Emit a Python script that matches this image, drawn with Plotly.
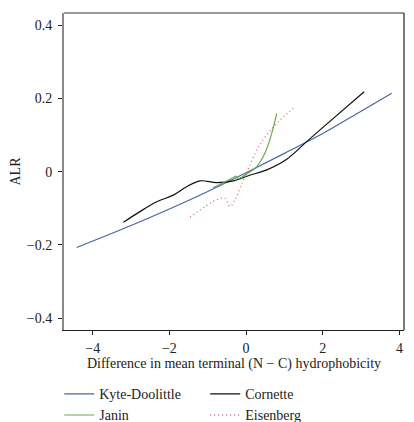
import plotly.graph_objects as go

# Kyte-Doolittle
kd_x = [-4.42, -3.0, -2.0, -1.0, 0.0, 1.0, 2.0, 3.0, 3.80]
kd_y = [-0.207, -0.147, -0.102, -0.054, -0.003, 0.050, 0.104, 0.165, 0.214]

# Cornette
co_x = [-3.20, -2.77, -2.33, -1.90, -1.55, -1.20, -0.77, -0.33, 0.06, 0.54, 1.06, 1.58, 1.93, 3.08]
co_y = [-0.138, -0.109, -0.082, -0.064, -0.041, -0.025, -0.030, -0.025, -0.011, 0.005, 0.034, 0.082, 0.114, 0.218]

# Janin
ja_x = [-0.86, -0.33, -0.27, -0.21, 0.02, 0.28, 0.49, 0.67, 0.80]
ja_y = [-0.044, -0.016, -0.012, -0.019, -0.006, 0.014, 0.050, 0.105, 0.159]

# Eisenberg
ei_x = [-1.46, -0.77, -0.55, -0.42, -0.29, -0.07, 0.10, 0.28, 0.50, 0.89, 1.28]
ei_y = [-0.124, -0.077, -0.073, -0.095, -0.077, -0.023, 0.018, 0.059, 0.095, 0.141, 0.177]

x_ticks = [-4, -2, 0, 2, 4]
y_ticks = [-0.4, -0.2, 0, 0.2, 0.4]

FONT = "Liberation Serif"

fig = go.Figure()
fig.add_trace(go.Scatter(x=kd_x, y=kd_y, mode="lines", name="Kyte-Doolittle",
                         line=dict(color="#4a64a8", width=1.2, shape="spline")))
fig.add_trace(go.Scatter(x=co_x, y=co_y, mode="lines", name="Cornette",
                         line=dict(color="#111111", width=1.2, shape="spline")))
fig.add_trace(go.Scatter(x=ja_x, y=ja_y, mode="lines", name="Janin",
                         line=dict(color="#6aaa50", width=1.2, shape="spline")))
fig.add_trace(go.Scatter(x=ei_x, y=ei_y, mode="lines", name="Eisenberg",
                         line=dict(color="#e06878", width=1.3, dash="1px,3px", shape="spline")))

fig.update_layout(
    width=414, height=422,
    margin=dict(l=56, r=18, t=5, b=100, autoexpand=False),
    plot_bgcolor="white", paper_bgcolor="white",
    font=dict(family=FONT, size=14, color="#222"),
    showlegend=True,
    legend=dict(orientation="h", x=-0.014, y=-0.152, xanchor="left", yanchor="top",
                entrywidth=101, entrywidthmode="pixels", itemwidth=30,
                font=dict(family=FONT, size=14), tracegroupgap=0),
    xaxis=dict(range=[-4.75, 4.12], tickvals=x_ticks, ticks="outside", ticklen=4,
               tickcolor="#222", showgrid=False, zeroline=False, automargin=False,
               ticklabelstandoff=1,
               showline=True, linecolor="#222", linewidth=1.2,
               title=dict(text="Difference in mean terminal (N − C) hydrophobicity",
                          font=dict(family=FONT, size=14), standoff=3)),
    yaxis=dict(range=[-0.432, 0.433], tickvals=y_ticks, ticktext=["−0.4", "−0.2", "0", "0.2", "0.4"],
               ticks="outside", ticklen=4, tickcolor="#222", showgrid=False, zeroline=False,
               automargin=False, ticklabelstandoff=3,
               showline=True, linecolor="#888", linewidth=2,
               title=dict(text="ALR", font=dict(family=FONT, size=14), standoff=9)),
    shapes=[
        dict(type="line", xref="paper", yref="paper", x0=0, x1=1, y0=1, y1=1,
             line=dict(color="#777", width=1.5)),
        dict(type="line", xref="paper", yref="paper", x0=1, x1=1, y0=0, y1=1,
             line=dict(color="#222", width=1.2)),
    ],
)

fig.write_html("out.html")
